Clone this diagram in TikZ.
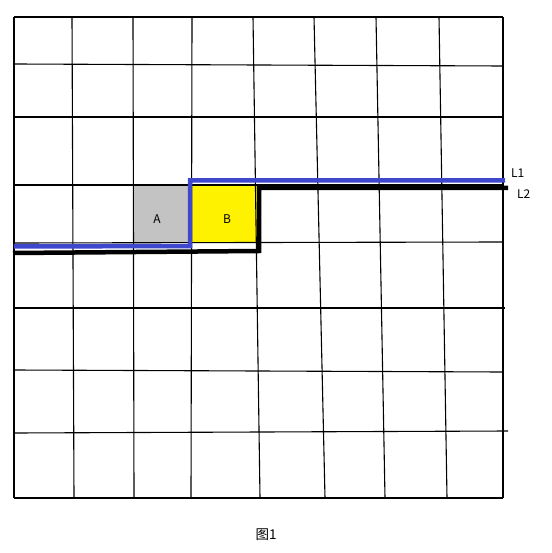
\documentclass[tikz,border=0pt]{standalone}
\usepackage{fontspec}
\setmainfont{Noto Sans CJK SC}
\usepackage{tikz}
\usetikzlibrary{positioning}
\definecolor{lineblue}{RGB}{63,72,204}
\definecolor{cellgrey}{RGB}{195,195,195}
\definecolor{cellyellow}{RGB}{255,242,0}

\tikzset{
	gridline/.style={line width=1.1pt},
	route/.style={line width=4.5pt,line join=miter},
	lbl/.style={inner sep=0pt,font=\fontsize{12}{13}\selectfont},
}

\begin{document}
\begin{tikzpicture}[x=1pt,y=-1pt]
		
		\useasboundingbox (0,0) rectangle (551,553);
		
		% the two cells
		\fill[cellgrey] (133,184) rectangle (192,243);
		\fill[cellyellow] (192,184) rectangle (257,243);
		
		% grid
		\foreach \top/\bot in {14/14,72/74,133/134,192/191,253/260,314/325,376/385,439/447,503/503}
		\draw[gridline] (\top,17) -- (\bot,498);
		\foreach \lft/\rgt/\ext in {17/17/503,64/66/503,117/117/503,185/185/503,243/242/503,308/308/505,370/372/503,433/431/508,498/498/503}
		\draw[gridline] (14,\lft) -- (\ext,\rgt);
		
		\node[lbl] (A) at (157,219) {A};
		\node[lbl] (B) at (227,219) {B};
		
		% lines
		\coordinate (l2s) at (13,253);
		\coordinate (l2c) at (259,251);
		\coordinate (l2e) at (508,188);
		\coordinate (l1s) at (14,246.5);
		\coordinate (l1c) at (190,246);
		\coordinate (l1e) at (505,180.5);
		
		\draw[route] (l2s) -- (l2c) -- (l2c|-l2e) -- (l2e);
		\draw[route,lineblue] (l1s) -- (l1c) -- (l1c|-l1e) -- (l1e);
		
		\node[lbl,anchor=west] (L1) at (511,173) {L1};
		\node[lbl,anchor=west] (L2) at (517,194) {L2};
		
		\node[font=\fontsize{13.5}{14}\selectfont] (cap) at (266,535) {图1};
		
	\end{tikzpicture}
\end{document}
